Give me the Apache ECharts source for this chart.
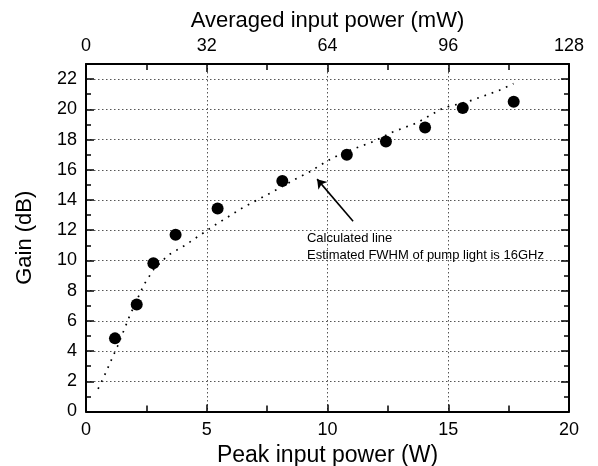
<!DOCTYPE html>
<html><head><meta charset="utf-8">
<script src="https://cdn.jsdelivr.net/npm/echarts@6/dist/echarts.min.js"></script>
<style>html,body{margin:0;padding:0;background:#fff}#c{width:598px;height:466px}</style>
</head><body><div id="c"></div>
<script>
// Measured gain vs peak input power
const peakPower = [1.2, 2.1, 2.79, 3.71, 5.45, 8.13, 10.8, 12.42, 14.04, 15.6, 17.71];
const gain = [4.84, 7.08, 9.82, 11.7, 13.43, 15.25, 17.0, 17.87, 18.8, 20.08, 20.5];
// Calculated line
const calcPower = [0.5, 0.8, 1.1, 1.3, 1.8, 2.4, 2.8, 3.4, 4.1, 5.3, 6.5, 7.8, 8.7, 9.3, 9.9, 10.6, 11.8, 12.7, 13.7, 14.8, 15.8, 17.1, 17.7];
const calcGain  = [1.5, 2.5, 3.6, 4.3, 6.3, 8.4, 9.4, 10.35, 11.0, 12.3, 13.5, 14.6, 15.4, 15.9, 16.5, 17.1, 17.8, 18.5, 19.1, 20.1, 20.5, 21.25, 21.7];
// Tick labels
const peakTicks = [0, 5, 10, 15, 20];
const avgTicks = [0, 32, 64, 96, 128];
const gainTicks = [0, 2, 4, 6, 8, 10, 12, 14, 16, 18, 20, 22];
const gainMax = 23;
// Annotation
const arrowFrom = [11.06, 12.59];
const arrowTo = [9.57, 15.38];
const noteAt = [9.15, 10.9];
const noteText = 'Calculated line\nEstimated FWHM of pump light is 16GHz';

const FONT = 'Liberation Sans, Arial, sans-serif';
const chart = echarts.init(document.getElementById('c'), null, {renderer: 'canvas'});
const axisLineStyle = {color: '#000', width: 2};
const gridLine = {show: true, lineStyle: {color: '#555', width: 1, type: [1.5, 2.5]}};

chart.setOption({
  animation: false,
  backgroundColor: '#fff',
  grid: {left: 86, right: 29, top: 64, bottom: 54.5, containLabel: false, outerBoundsMode: 'none'},
  xAxis: [
    {
      type: 'value', position: 'bottom',
      min: peakTicks[0], max: peakTicks[peakTicks.length - 1], interval: peakTicks[1] - peakTicks[0],
      name: 'Peak input power (W)', nameLocation: 'middle', nameGap: 24,
      nameTextStyle: {fontFamily: FONT, fontSize: 23, color: '#000'},
      axisLine: {show: true, onZero: false, lineStyle: axisLineStyle},
      axisTick: {show: true, inside: true, length: 7, lineStyle: {color: '#000', width: 1.5}},
      minorTick: {show: true, splitNumber: 2, length: 6, lineStyle: {color: '#000', width: 1.5}},
      axisLabel: {fontFamily: FONT, fontSize: 18, color: '#000', margin: 10},
      splitLine: gridLine
    },
    {
      type: 'value', position: 'top',
      min: avgTicks[0], max: avgTicks[avgTicks.length - 1], interval: avgTicks[1] - avgTicks[0],
      name: 'Averaged input power (mW)', nameLocation: 'middle', nameGap: 29,
      nameTextStyle: {fontFamily: FONT, fontSize: 22, color: '#000'},
      axisLine: {show: true, onZero: false, lineStyle: axisLineStyle},
      axisTick: {show: true, inside: true, length: 8, lineStyle: {color: '#000', width: 1.5}},
      minorTick: {show: true, splitNumber: 2, length: 6, lineStyle: {color: '#000', width: 1.5}},
      axisLabel: {fontFamily: FONT, fontSize: 18, color: '#000', margin: 9},
      splitLine: {show: false}
    }
  ],
  yAxis: [
    {
      type: 'value', position: 'left',
      min: gainTicks[0], max: gainMax, interval: gainTicks[1] - gainTicks[0],
      name: 'Gain (dB)', nameLocation: 'middle', nameGap: 50, nameRotate: 90,
      nameTextStyle: {fontFamily: FONT, fontSize: 22, color: '#000'},
      axisLine: {show: true, onZero: false, lineStyle: axisLineStyle},
      axisTick: {show: true, inside: true, length: 8, lineStyle: {color: '#000', width: 1.5}},
      minorTick: {show: true, splitNumber: 2, length: 5, lineStyle: {color: '#000', width: 1.5}},
      axisLabel: {fontFamily: FONT, fontSize: 18, color: '#000', margin: 9, showMaxLabel: false,
        formatter: v => gainTicks.indexOf(v) >= 0 ? String(v) : ''},
      splitLine: gridLine
    },
    {
      type: 'value', position: 'right',
      min: gainTicks[0], max: gainMax, interval: gainTicks[1] - gainTicks[0],
      axisLine: {show: true, onZero: false, lineStyle: axisLineStyle},
      axisTick: {show: true, inside: true, length: 8, lineStyle: {color: '#000', width: 1.5}},
      minorTick: {show: true, splitNumber: 2, length: 5, lineStyle: {color: '#000', width: 1.5}},
      axisLabel: {show: false},
      splitLine: {show: false}
    }
  ],
  series: [
    {
      type: 'line', name: 'Calculated', xAxisIndex: 0, yAxisIndex: 0,
      data: calcPower.map((x, i) => [x, calcGain[i]]),
      showSymbol: false, symbol: 'none', smooth: false,
      lineStyle: {color: '#000', width: 1.7, type: [1.7, 6]},
      z: 3,
      markLine: {
        silent: true, animation: false,
        symbol: ['none', 'arrow'], symbolSize: 9,
        lineStyle: {color: '#000', width: 1.6, type: 'solid'},
        label: {show: false},
        data: [[{coord: arrowFrom}, {coord: arrowTo}]]
      },
      markPoint: {
        silent: true, animation: false,
        symbol: 'rect', symbolSize: 0,
        label: {show: true, position: 'right', distance: 0, align: 'left', verticalAlign: 'middle',
          formatter: noteText, fontFamily: FONT, fontSize: 13, lineHeight: 17, color: '#000'},
        data: [{coord: noteAt}]
      }
    },
    {
      type: 'scatter', name: 'Measured', xAxisIndex: 0, yAxisIndex: 0,
      data: peakPower.map((x, i) => [x, gain[i]]),
      symbol: 'circle', symbolSize: 12,
      itemStyle: {color: '#000', opacity: 1},
      z: 5
    }
  ]
});
</script>
</body></html>
